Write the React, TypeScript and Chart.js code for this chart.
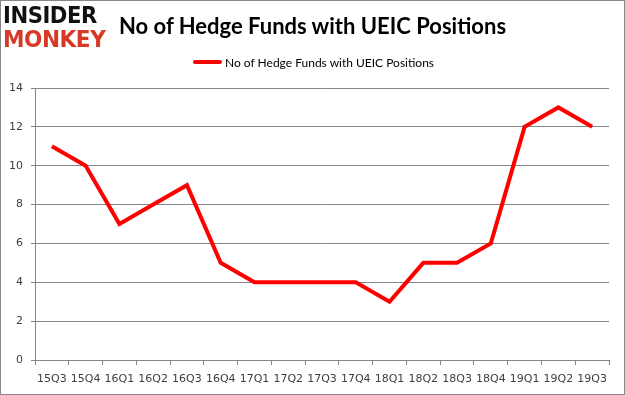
import React, { useEffect, useRef } from "react";
import { Chart, registerables } from "chart.js";

Chart.register(...registerables);

const categories = ["15Q3","15Q4","16Q1","16Q2","16Q3","16Q4","17Q1","17Q2","17Q3","17Q4","18Q1","18Q2","18Q3","18Q4","19Q1","19Q2","19Q3"];
const hedgeFunds = [11, 10, 7, 8, 9, 5, 4, 4, 4, 4, 3, 5, 5, 6, 12, 13, 12];
const seriesName = "No of Hedge Funds with UEIC Positions";
const titleText = "No of Hedge Funds with UEIC Positions";
const yMin = 0;
const yMax = 14;
const yStep = 2;

export default function App() {
  const ref = useRef<HTMLCanvasElement | null>(null);

  useEffect(() => {
    if (!ref.current) return;
    const gray = "#868686";
    const chart = new Chart(ref.current, {
      type: "line",
      data: {
        labels: categories,
        datasets: [
          {
            label: seriesName,
            data: hedgeFunds,
            borderColor: "#ff0000",
            backgroundColor: "#ff0000",
            borderWidth: 4,
            pointRadius: 0,
            tension: 0,
            fill: false,
          },
        ],
      },
      options: {
        responsive: false,
        animation: false,
        layout: { padding: { left: 0, right: 16, top: 88, bottom: 0 } },
        plugins: {
          legend: { display: false },
          title: { display: false },
          tooltip: { enabled: false },
        },
        scales: {
          x: {
            offset: true,
            grid: {
              offset: true,
              drawOnChartArea: false,
              drawTicks: true,
              tickLength: 5,
              color: gray,
            },
            border: { color: gray, width: 1 },
            ticks: {
              padding: 8,
              color: "#404040",
              font: { family: "DejaVu Sans", size: 11 },
              maxRotation: 0,
              autoSkip: false,
            },
            afterFit: (s: any) => {
              s.height = 35;
            },
          },
          y: {
            min: yMin,
            max: yMax,
            grid: { color: gray, tickLength: 4, drawTicks: true },
            border: { color: gray, width: 1 },
            ticks: {
              stepSize: yStep,
              padding: 8,
              color: "#404040",
              font: { family: "DejaVu Sans", size: 11 },
            },
            afterFit: (s: any) => {
              s.width = 35;
            },
          },
        },
      },
    });
    return () => chart.destroy();
  }, []);

  return (
    <div style={{ position: "absolute", left: 0, top: 0, width: 625, height: 395, background: "#fff", overflow: "hidden" }}>
      <canvas ref={ref} width={625} height={395} style={{ position: "absolute", left: 0, top: 0, width: 625, height: 395 }} />
      <div style={{ position: "absolute", left: 3, top: 3, fontFamily: "'DejaVu Sans'", fontWeight: 900, lineHeight: "24px", fontSize: 23, letterSpacing: -0.5 }}>
        <div style={{ color: "#111", transform: "scaleX(0.92)", transformOrigin: "left" }}>INSIDER</div>
        <div style={{ color: "#d63a26", transform: "scaleX(0.94)", transformOrigin: "left" }}>MONKEY</div>
      </div>
      <div style={{ position: "absolute", left: 0, width: 625, top: 12, textAlign: "center", fontFamily: "Lato", fontWeight: 700, fontSize: 22, color: "#000", whiteSpace: "nowrap" }}>
        {titleText}
      </div>
      <div style={{ position: "absolute", left: 193, top: 54, height: 16, display: "flex", alignItems: "center", whiteSpace: "nowrap" }}>
        <div style={{ width: 29, height: 4, background: "#ff0000", borderRadius: 2 }} />
        <div style={{ marginLeft: 3, fontFamily: "Lato", fontSize: 12, color: "#000" }}>{seriesName}</div>
      </div>
      <div style={{ position: "absolute", left: 0, top: 0, width: 625, height: 395, boxSizing: "border-box", border: "1px solid #888", pointerEvents: "none" }} />
    </div>
  );
}
